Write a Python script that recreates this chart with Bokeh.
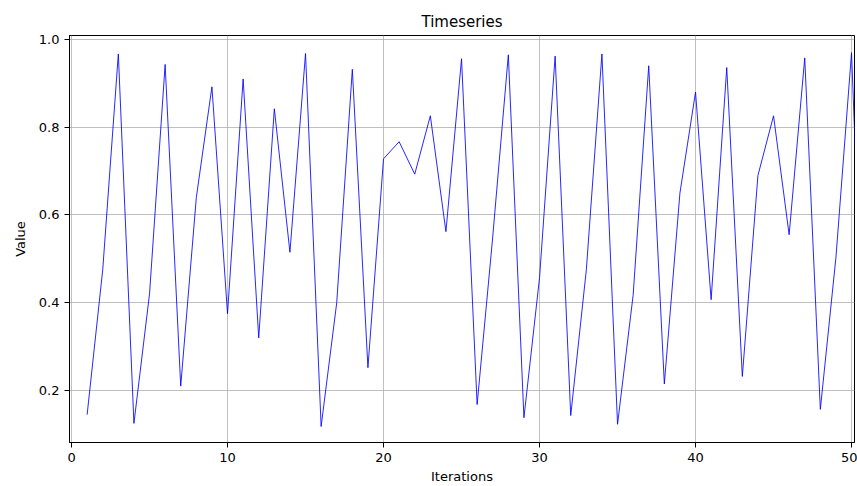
from bokeh.plotting import figure
from bokeh.models import Range1d, FixedTicker, PrintfTickFormatter, ColumnDataSource
from bokeh.embed import file_html
from bokeh.resources import INLINE

iterations = list(range(1, 52))
values = [0.145, 0.475, 0.967, 0.125, 0.42, 0.943, 0.21, 0.64, 0.892, 0.375,
          0.91, 0.32, 0.842, 0.515, 0.968, 0.118, 0.40, 0.932, 0.252, 0.728,
          0.767, 0.693, 0.826, 0.562, 0.956, 0.168, 0.55, 0.965, 0.138, 0.457,
          0.962, 0.143, 0.475, 0.967, 0.123, 0.417, 0.94, 0.215, 0.65, 0.88,
          0.407, 0.936, 0.232, 0.69, 0.826, 0.555, 0.958, 0.157, 0.503, 0.97,
          0.04]
x_ticks = [0, 10, 20, 30, 40, 50]
y_ticks = [0.2, 0.4, 0.6, 0.8, 1.0]

FONT = "DejaVu Sans"

p = figure(width=857, height=486, output_backend="svg", toolbar_location=None,
           title="Timeseries",
           x_range=Range1d(-0.13, 50.19), y_range=Range1d(0.0815, 1.009),
           min_border_left=69, min_border_right=3, min_border_top=35,
           min_border_bottom=44)

src = ColumnDataSource(dict(x=iterations, y=values))
p.line("x", "y", source=src, line_color="blue", line_width=1.0, line_alpha=0.85)

p.title.align = "center"
p.title.text_font = FONT
p.title.text_font_size = "15px"
p.title.text_font_style = "normal"
p.title.text_color = "black"

p.outline_line_color = "black"
p.outline_line_width = 1
p.outline_line_alpha = 1

for ax in (p.xaxis[0], p.yaxis[0]):
    ax.axis_label_text_font = FONT
    ax.axis_label_text_font_size = "13px"
    ax.axis_label_text_font_style = "normal"
    ax.axis_label_text_color = "black"
    ax.major_label_text_font = FONT
    ax.major_label_text_font_size = "13px"
    ax.major_label_text_color = "black"
    ax.minor_tick_line_color = None
    ax.major_tick_out = 5
    ax.major_tick_in = 0
    ax.major_tick_line_color = "black"
    ax.axis_line_color = "black"

p.xaxis.axis_label = "Iterations"
p.yaxis.axis_label = "Value"
p.xaxis.ticker = FixedTicker(ticks=x_ticks)
p.yaxis.ticker = FixedTicker(ticks=y_ticks)
p.yaxis.formatter = PrintfTickFormatter(format="%.1f")
p.xaxis.axis_label_standoff = 4
p.yaxis.axis_label_standoff = 8

p.grid.grid_line_color = "#b0b0b0"
p.grid.grid_line_width = 0.8
p.grid.grid_line_alpha = 1

open("out.html", "w").write(file_html(p, INLINE))
